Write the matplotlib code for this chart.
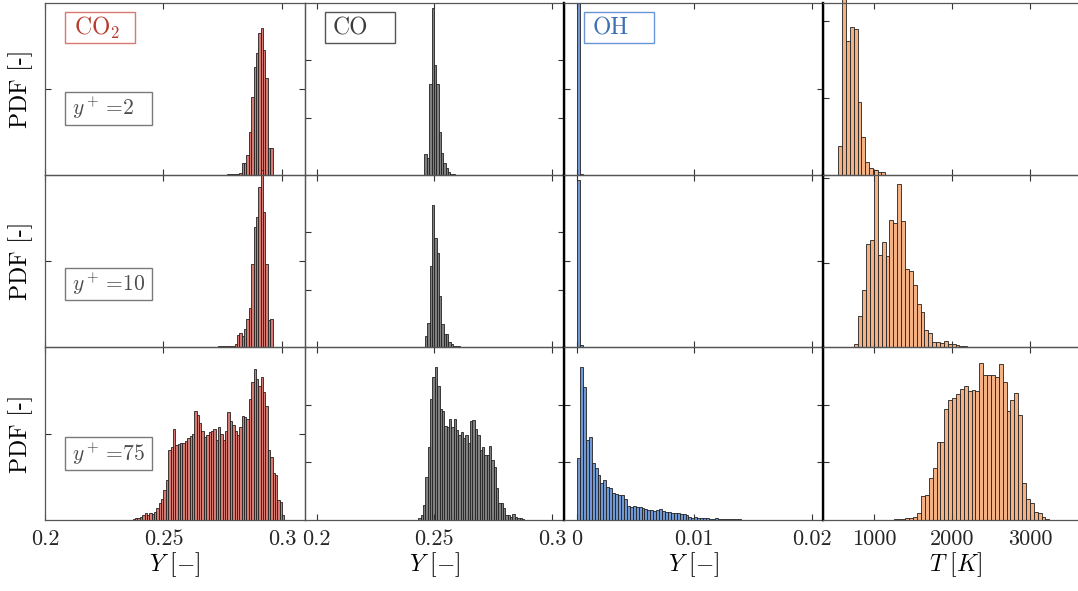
import numpy as np
import matplotlib.pyplot as plt
from matplotlib.patches import Rectangle

plt.rcParams['font.family'] = ['cmr10', 'DejaVu Serif']
plt.rcParams['mathtext.fontset'] = 'cm'
plt.rcParams['axes.formatter.use_mathtext'] = True

# histogram data: bin start, bin width, relative PDF heights (rows: y+ = 2, 10, 75)
co2_width = 0.001
co2_start = [0.275, 0.271, 0.237]
co2_row1 = [0.5, 0.5, 0.7, 0.8, 1.0, 0.8, 1.2, 1.7, 12, 12, 20, 43, 78, 108, 122, 142, 147, 125, 97, 27, 27]
co2_row2 = [0.5, 0.5, 0.6, 0.7, 0.8, 0.8, 1, 1.2, 1.5, 3, 12, 14, 11, 18, 28, 39, 83, 120, 130, 160, 177,
            135, 83, 27, 28]
co2_row3 = [1, 1.5, 2, 3, 5, 7, 5, 7, 6, 8, 12, 17, 21, 30, 40, 70, 73, 90, 75, 76, 77, 77, 79, 82, 84, 86,
            108, 104, 96, 88, 83, 85, 87, 88, 90, 80, 92, 86, 80, 88, 107, 98, 94, 88, 85, 92, 103, 102, 100,
            120, 137, 150, 140, 133, 142, 127, 113, 70, 63, 47, 45, 20, 18, 5]

co_width = 0.001
co_start = [0.2458, 0.2460, 0.2432]
co_row1 = [21, 17, 91, 167, 110, 91, 43, 22, 12, 7, 3, 1, 1, 0.5, 0.5]
co_row2 = [11, 24, 81, 142, 109, 94, 51, 23, 13, 13, 5, 3, 1, 1, 0.7, 0.5, 0.5]
co_row3 = [2, 5, 15, 43, 73, 120, 142, 152, 133, 110, 108, 93, 92, 100, 92, 100, 89, 85, 87, 82, 85, 77,
           98, 99, 90, 85, 70, 73, 65, 65, 74, 60, 53, 32, 17, 17, 12, 5, 5, 3, 6, 3, 1.5, 1.5, 1]

oh_width = 0.00025
oh_start = [0.0, 0.0, 0.0]
oh_row1 = [172, 0.8]
oh_row2 = [167, 2, 0.5]
oh_row3 = [62, 152, 132, 80, 83, 57, 52, 45, 37, 40, 33, 32, 27, 26, 25, 25, 21, 14, 13, 14, 13, 13, 12, 11,
           10, 10, 9, 10, 11, 9, 8, 8, 7, 7, 7, 6, 6, 5, 3, 2, 3, 2, 2, 1.5, 1.5, 1, 1, 1.5, 1, 1, 0.7, 0.7,
           0.5, 0.5, 0.5, 0.5, 0.3]

t_width = 50
t_start = [535, 745, 1250]
t_row1 = [29, 178, 134, 148, 146, 73, 38, 13, 7, 5, 3, 3]
t_row2 = [3, 31, 57, 103, 107, 177, 92, 105, 91, 127, 124, 163, 126, 78, 76, 62, 43, 35, 17, 14, 5, 5, 4, 6,
          3, 3, 2, 1, 1]
t_row3 = [0.7, 1, 1, 1.5, 2, 3, 7, 24, 25, 42, 52, 78, 78, 110, 119, 121, 125, 130, 133, 128, 129, 128, 156,
          144, 144, 144, 142, 155, 137, 108, 119, 126, 104, 37, 21, 17, 8, 7, 3, 1]

species = ['CO$_2$', 'CO', 'OH', None]
yplus = ['2', '10', '75']
xtick_vals = [[0.2, 0.25, 0.3], [0.2, 0.25, 0.3], [0, 0.01, 0.02], [1000, 2000, 3000]]
xtick_labels = [['0.2', '0.25', '0.3'], ['0.2', '0.25', '0.3'], ['0', '0.01', '0.02'], ['1000', '2000', '3000']]
xlabels = [r'$Y\ [-]$', r'$Y\ [-]$', r'$Y\ [-]$', r'$T\ [K]$']

starts = [co2_start, co_start, oh_start, t_start]
widths = [co2_width, co_width, oh_width, t_width]
heights = [[co2_row1, co2_row2, co2_row3], [co_row1, co_row2, co_row3],
           [oh_row1, oh_row2, oh_row3], [t_row1, t_row2, t_row3]]

face = ['#d97a72', '#808080', '#7098d2', '#f4b183']
label_txt = ['#b83a2e', '#3c3c3c', '#3d6fb6']
label_edge = ['#d97a70', '#555555', '#6a95d4']

# layout (pixels of the 1078x591 image)
W, H = 1078, 591
col_px = [(45, 304.5), (304.5, 564), (564, 823), (823, 1088)]
row_px = [(3, 175), (175, 347), (347, 520)]
xlims = [(0.2, 0.3095), (0.1948, 0.3051), (-0.00111, 0.02097), (340.6, 3746.7)]
ytick_frac = [[[0.5], [1/3, 2/3], [0.5], [0, 0.447, 0.895]],
              [[0.5], [1/3, 2/3], [0.5], [0.49, 0.98]],
              [[0.5], [1/3, 2/3], [1/3, 2/3], [1/3, 2/3]]]
ytop = 172
box_y = [(0.291, 0.483), (0.273, 0.459), (0.289, 0.48)]

fig = plt.figure(figsize=(10.78, 5.91), dpi=100)

for r in range(3):
    for c in range(4):
        x0, x1 = col_px[c]
        y0, y1 = row_px[r]
        ax = fig.add_axes([x0 / W, 1 - y1 / H, (x1 - x0) / W, (y1 - y0) / H])
        ax.patch.set_facecolor('none')
        h = np.array(heights[c][r])
        edges = starts[c][r] + widths[c] * np.arange(len(h))
        ax.bar(edges, h, width=widths[c], align='edge', color=face[c],
               edgecolor='#222222', linewidth=0.6, clip_on=False)
        ax.set_xlim(*xlims[c])
        ax.set_ylim(0, ytop)
        ax.set_xticks(xtick_vals[c])
        ax.set_yticks([f * ytop for f in ytick_frac[r][c]])
        ax.tick_params(direction='in', length=4, width=0.8, top=True, right=True,
                       labelleft=False, labelbottom=(r == 2), labelsize=16, pad=7,
                       colors='#333333', labelcolor='#262626')
        if r == 2:
            ax.set_xticklabels(xtick_labels[c])
            ax.set_xlabel(xlabels[c], fontsize=17, labelpad=1)
        for s in ax.spines.values():
            s.set_color('#555555')
            s.set_linewidth(0.9)
        if c >= 2:
            ax.spines['left'].set_color('black')
            ax.spines['left'].set_linewidth(1.7)
        if c == 0:
            ax.set_ylabel('PDF [-]', fontsize=17)
            ax.yaxis.set_label_coords(-0.045, 0.5)
            ba, bb = box_y[r]
            ax.add_patch(Rectangle((0.077, ba), 0.335, bb - ba, transform=ax.transAxes,
                                   facecolor='white', edgecolor='#7a7a7a', linewidth=1.0))
            ax.text(0.105, (ba + bb) / 2, r'$y^+\,$=' + yplus[r], transform=ax.transAxes,
                    fontsize=15.5, color='#4d4d4d', va='center', ha='left')
        if r == 0 and species[c] is not None:
            ax.add_patch(Rectangle((0.078, 0.767), 0.269, 0.181, transform=ax.transAxes,
                                   facecolor='white', edgecolor=label_edge[c], linewidth=1.0))
            ax.text(0.11, 0.855, species[c], transform=ax.transAxes, fontsize=17,
                    color=label_txt[c], va='center', ha='left')

plt.savefig('out.png', dpi=100)
